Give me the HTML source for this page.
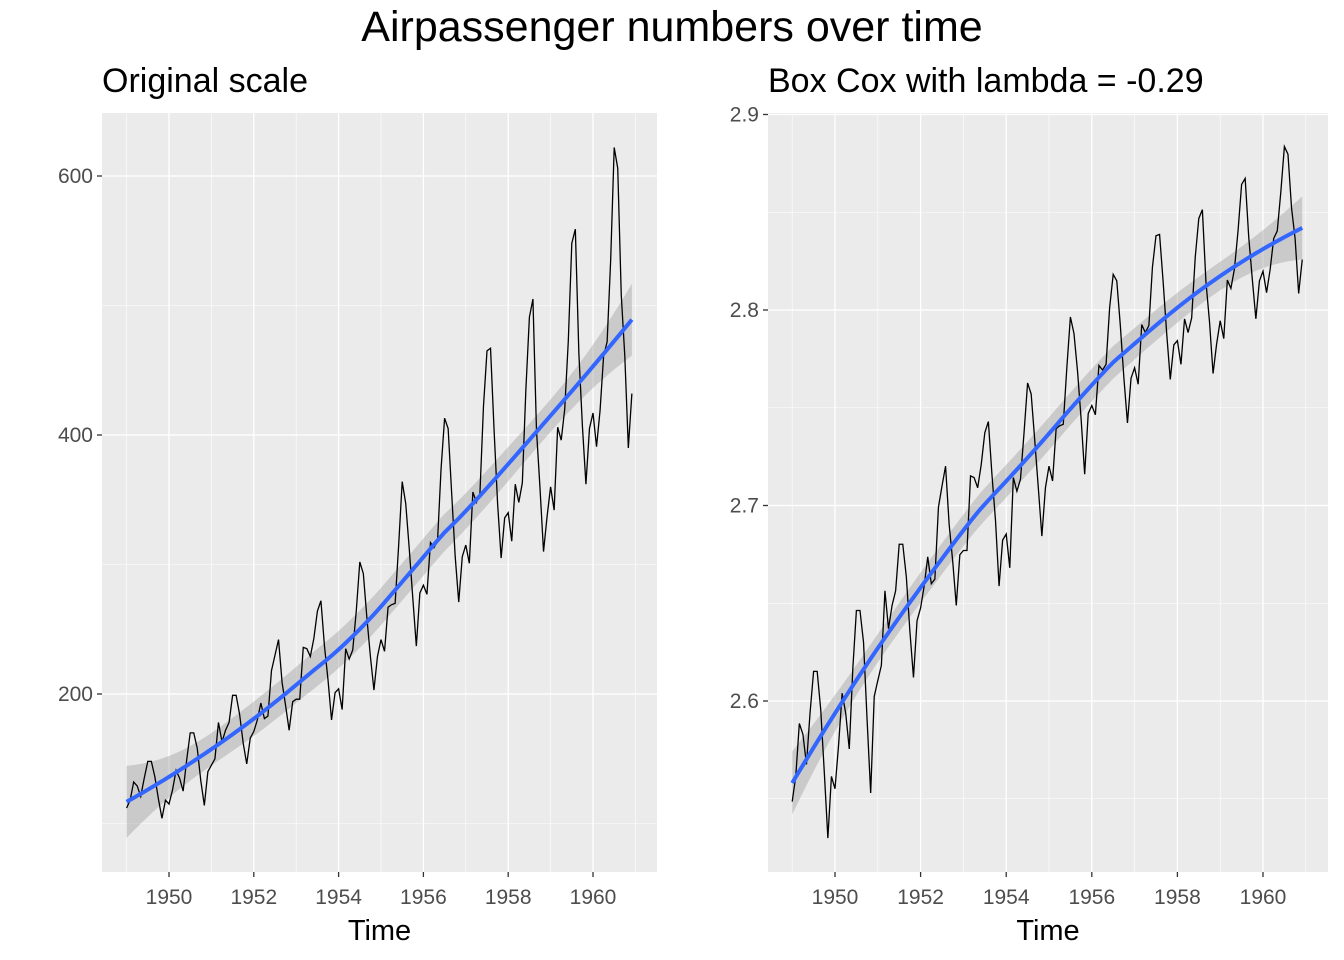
<!DOCTYPE html>
<html><head><meta charset="utf-8"><style>
body{margin:0;background:#fff;}
svg{display:block;font-family:"Liberation Sans",sans-serif;}
</style></head><body>
<svg id="c" width="1344" height="960" viewBox="0 0 1344 960">
<text x="672" y="41" text-anchor="middle" font-size="43">Airpassenger numbers over time</text>
</svg>
<script>
const passengers=[112,118,132,129,121,135,148,148,136,119,104,118,
115,126,141,135,125,149,170,170,158,133,114,140,
145,150,178,163,172,178,199,199,184,162,146,166,
171,180,193,181,183,218,230,242,209,191,172,194,
196,196,236,235,229,243,264,272,237,211,180,201,
204,188,235,227,234,264,302,293,259,229,203,229,
242,233,267,269,270,315,364,347,312,274,237,278,
284,277,317,313,318,374,413,405,355,306,271,306,
315,301,356,348,355,422,465,467,404,347,305,336,
340,318,362,348,363,435,491,505,404,359,310,337,
360,342,406,396,420,472,548,559,463,407,362,405,
417,391,419,461,472,535,622,606,508,461,390,432];
const lambda=-0.2947;
const startYear=1949;
const xTicks=[1950,1952,1954,1956,1958,1960];
const yTicksLeft=[200,400,600];
const yTicksRight=[2.6,2.7,2.8,2.9];
const NS='http://www.w3.org/2000/svg';
const svg=document.getElementById('c');
function mk(tag,attrs,parent){const e=document.createElementNS(NS,tag);for(const k in attrs)e.setAttribute(k,attrs[k]);(parent||svg).appendChild(e);return e;}
function loess(x,y,span){
  const n=x.length,q=Math.floor(n*span);const fit=[],L=[];
  for(let k=0;k<n;k++){
    const x0=x[k];const d=x.map(v=>Math.abs(v-x0));const h=[...d].sort((a,b)=>a-b)[q-1]*1.0000001;
    const w=d.map(v=>v<h?Math.pow(1-Math.pow(v/h,3),3):0);
    const M=[[0,0,0],[0,0,0],[0,0,0]];
    for(let i=0;i<n;i++){const u=x[i]-x0,r=[1,u,u*u];for(let a=0;a<3;a++)for(let b=0;b<3;b++)M[a][b]+=w[i]*r[a]*r[b];}
    const inv=inv3(M);const l=[];let f=0;
    for(let i=0;i<n;i++){const u=x[i]-x0;const li=w[i]*(inv[0][0]+inv[0][1]*u+inv[0][2]*u*u);l.push(li);f+=li*y[i];}
    fit.push(f);L.push(l);
  }
  let rss=0,tr=0;for(let i=0;i<n;i++){rss+=(y[i]-fit[i])**2;tr+=L[i][i];}
  const sigma=Math.sqrt(rss/(n-tr));
  const se=L.map(l=>sigma*Math.sqrt(l.reduce((s,v)=>s+v*v,0)));
  return {fit,se};
}
function inv3(m){const[a,b,c]=m[0],[d,e,f]=m[1],[g,h,i]=m[2];
  const A=e*i-f*h,B=-(d*i-f*g),C=d*h-e*g,det=a*A+b*B+c*C;
  return [[A/det,-(b*i-c*h)/det,(b*f-c*e)/det],[B/det,(a*i-c*g)/det,-(a*f-c*d)/det],[C/det,-(a*h-b*g)/det,(a*e-b*d)/det]];}
function panel(name,title,vals,yTicks,px0,px1,py0,py1,xa,xb,ya,yb,fmt){
  const g=mk('g',{});
  const X=t=>xa+(t-1950)*xb, Y=v=>ya+(v-yTicks[0])*yb;
  mk('rect',{x:px0,y:py0,width:px1-px0,height:py1-py0,fill:'#EBEBEB'},g);
  const step=yTicks[1]-yTicks[0];
  for(let v=yTicks[0]-step*1.5;v<=yTicks[yTicks.length-1]+step;v+=step){const yy=Y(v);if(yy>py0&&yy<py1){const l=mk('line',{x1:px0,x2:px1,y1:yy,y2:yy,stroke:'#fff','stroke-width':0.6},g);}}
  for(let t=1949;t<=1961;t+=2){const xx=X(t);if(xx>px0&&xx<px1){const l=mk('line',{x1:xx,x2:xx,y1:py0,y2:py1,stroke:'#fff','stroke-width':0.6},g);}}
  yTicks.forEach(v=>{const yy=Y(v);const l=mk('line',{x1:px0,x2:px1,y1:yy,y2:yy,stroke:'#fff','stroke-width':1.3},g);
    const tk=mk('line',{x1:px0-5,x2:px0,y1:yy,y2:yy,stroke:'#333','stroke-width':1.3},g);
    const tx=mk('text',{x:px0-9,y:yy+7,'text-anchor':'end','font-size':21,fill:'#4D4D4D'},g);tx.textContent=fmt(v);});
  xTicks.forEach(t=>{const xx=X(t);const l=mk('line',{x1:xx,x2:xx,y1:py0,y2:py1,stroke:'#fff','stroke-width':1.3},g);
    const tk=mk('line',{x1:xx,x2:xx,y1:py1,y2:py1+5,stroke:'#333','stroke-width':1.3},g);
    const tx=mk('text',{x:xx,y:py1+32,'text-anchor':'middle','font-size':21,fill:'#4D4D4D'},g);tx.textContent=t;});
  const ts=vals.map((v,i)=>startYear+i/12);
  const {fit,se}=loess(ts,vals,0.75);
  let band='';ts.forEach((t,i)=>band+=(i?'L':'M')+X(t)+','+Y(fit[i]+1.97*se[i]));
  for(let i=ts.length-1;i>=0;i--)band+='L'+X(ts[i])+','+Y(fit[i]-1.97*se[i]);
  const b=mk('path',{d:band+'Z',fill:'#999','fill-opacity':0.4},g);
  const line=mk('path',{d:ts.map((t,i)=>(i?'L':'M')+X(t)+','+Y(vals[i])).join(''),fill:'none',stroke:'#000','stroke-width':1.3},g);
  const sm=mk('path',{d:ts.map((t,i)=>(i?'L':'M')+X(t)+','+Y(fit[i])).join(''),fill:'none',stroke:'#3366FF','stroke-width':4},g);
  const tt=mk('text',{x:px0,y:92,'font-size':34},g);tt.textContent=title;
  const at=mk('text',{x:(px0+px1)/2,y:940,'text-anchor':'middle','font-size':29},g);at.textContent='Time';
}
panel('left-panel','Original scale',passengers,yTicksLeft,102,657,113,872,169,42.4,694,-1.295,v=>String(v));
const bc=passengers.map(v=>(Math.pow(v,lambda)-1)/lambda);
panel('right-panel','Box Cox with lambda = -0.29',bc,yTicksRight,768,1328,113,872,835,42.8,701,-1955,v=>v.toFixed(1));
</script>
</body></html>
